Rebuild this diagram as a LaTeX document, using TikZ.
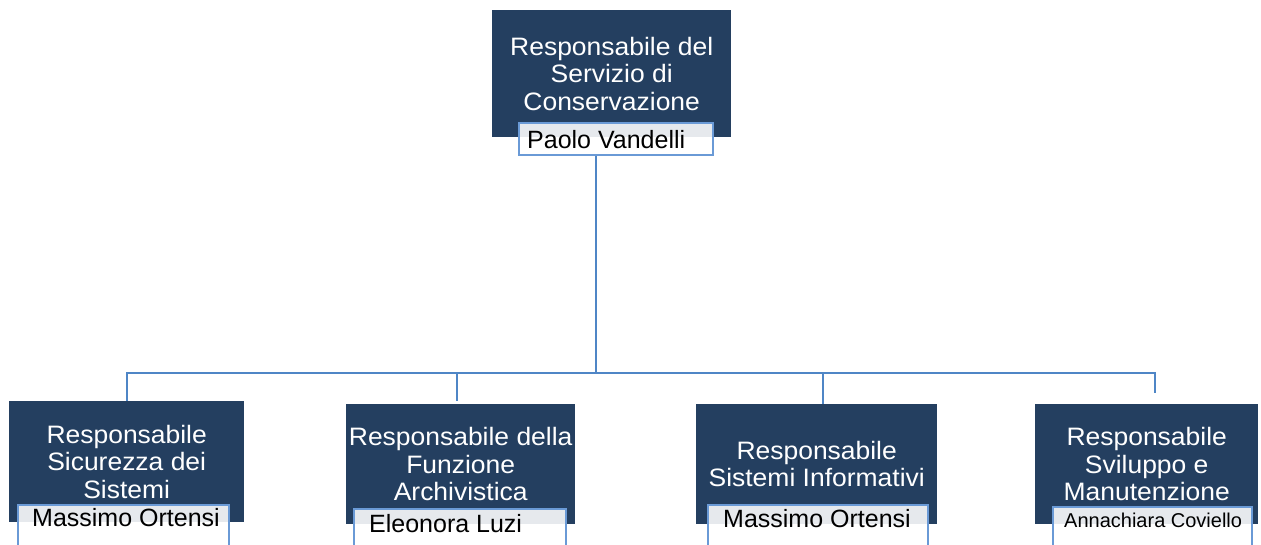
\documentclass[tikz,border=0pt]{standalone}
\usepackage{fontspec}
\setmainfont{Liberation Sans}
\newfontfamily\titlefont{Liberation Sans}[FakeStretch=1.05]
\definecolor{navy}{HTML}{243F60}
\definecolor{linkblue}{HTML}{4F86C6}
\definecolor{nameborder}{HTML}{6A9AD6}
\begin{document}
\begin{tikzpicture}[x=1pt,y=-1pt,
  rolebox/.style={fill=navy, text=white, inner sep=0pt, anchor=north west, align=center,
    font=\titlefont\fontsize{25.2}{27.5}\selectfont},
  namebox/.style={draw=nameborder, line width=1.8pt, fill=white, fill opacity=0.89,
    anchor=north west, inner sep=0pt},
  nametext/.style={anchor=base west, inner sep=0pt, text=black, font=\fontsize{25}{28}\selectfont},
  smallname/.style={nametext, font=\fontsize{20}{24}\selectfont},
  link/.style={draw=linkblue, line width=2.8pt, line join=miter}]
\useasboundingbox (0,0) rectangle (1261,544);
\fill[white] (0,0) rectangle (1261,544);
\clip (0,0) rectangle (1261,544);

% top
\node[rolebox, minimum width=239pt, minimum height=127pt] (r0) at (492,10) {Responsabile del\\Servizio di\\Conservazione};
\node[namebox, minimum width=194pt, minimum height=32pt] (n0) at (518,122) {};
\node[nametext] (t0) at (527,148) {Paolo Vandelli};

% bottom role boxes
\node[rolebox, minimum width=235pt, minimum height=121pt] (r1) at (9,401) {Responsabile\\Sicurezza dei\\Sistemi};
\node[rolebox, minimum width=229pt, minimum height=120pt] (r2) at (346,404) {Responsabile della\\Funzione\\Archivistica};
\node[rolebox, minimum width=241pt, minimum height=120pt] (r3) at (696,404) {Responsabile\\Sistemi Informativi};
\node[rolebox, minimum width=223pt, minimum height=120pt] (r4) at (1035,404) {Responsabile\\Sviluppo e\\Manutenzione};

% name boxes
\node[namebox, minimum width=211pt, minimum height=60pt] (n1) at (17,504) {};
\node[nametext] (t1) at (32,526) {Massimo Ortensi};
\node[namebox, minimum width=212pt, minimum height=60pt] (n2) at (353,508) {};
\node[nametext] (t2) at (369,532) {Eleonora Luzi};
\node[namebox, minimum width=220pt, minimum height=60pt] (n3) at (707,504) {};
\node[nametext] (t3) at (723,527) {Massimo Ortensi};
\node[namebox, minimum width=199pt, minimum height=60pt] (n4) at (1052,506) {};
\node[smallname] (t4) at (1064,527) {Annachiara Coviello};

% connectors
\coordinate (hub) at (596,373);
\coordinate (h1) at (127,373);
\coordinate (h2) at (457,373);
\coordinate (h3) at (823,373);
\coordinate (h4) at (1155,373);
\coordinate (e2) at (457,401);
\coordinate (e4) at (1155,393);
\draw[link] (n0.south -| hub) -- (hub);
\draw[link] (r1.north -| h1) -- (h1) -- (h4) -- (e4);
\draw[link] (h2) -- (e2);
\draw[link] (h3) -- (r3.north -| h3);
\end{tikzpicture}
\end{document}
